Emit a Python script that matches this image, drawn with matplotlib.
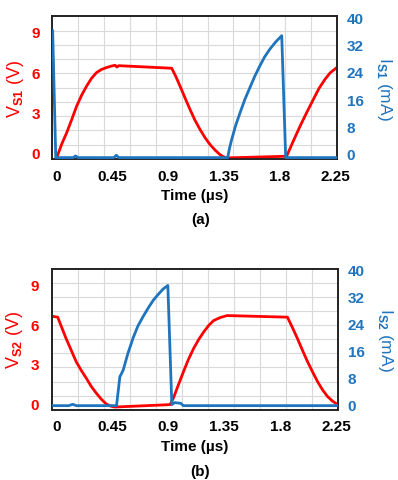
import matplotlib.pyplot as plt
import numpy as np

plt.rcParams["font.family"] = ["Liberation Sans", "DejaVu Sans"]
plt.rcParams["font.weight"] = "bold"
plt.rcParams["mathtext.fontset"] = "custom"
plt.rcParams["mathtext.rm"] = "Liberation Sans:bold"
plt.rcParams["mathtext.bf"] = "Liberation Sans:bold"

RED = "#FF0000"
BLUE = "#1F74BE"

# Data (time in us)
xticks = [0, 0.45, 0.9, 1.35, 1.8, 2.25]
xticklabels = ["0", "0.45", "0.9", "1.35", "1.8", "2.25"]
v_ticks = [0, 3, 6, 9]
i_ticks = [0, 8, 16, 24, 32, 40]

# (a) V_S1 and I_S1
t_v1 = [0.0, 0.04, 0.078, 0.12, 0.159, 0.2, 0.24, 0.28, 0.32, 0.36, 0.40, 0.44, 0.47,
        0.485, 0.50, 0.928, 0.96, 0.995, 1.035, 1.076, 1.115, 1.157, 1.2, 1.238, 1.28,
        1.319, 1.35, 1.373, 1.845, 1.855, 1.91, 1.966, 2.02, 2.074, 2.12, 2.168, 2.21, 2.263]
v_s1 = [-0.3, 0.7, 1.49, 2.5, 3.48, 4.3, 4.97, 5.55, 5.97, 6.2, 6.34, 6.45, 6.51,
        6.38, 6.48, 6.29, 5.7, 4.97, 4.1, 3.23, 2.45, 1.74, 1.1, 0.62, 0.2,
        -0.13, -0.3, -0.37, -0.25, -0.3, 0.85, 1.98, 3.0, 3.98, 4.8, 5.47, 5.95, 6.34]
t_i1 = [-0.035, -0.01, 0.13, 0.15, 0.17, 0.46, 0.48, 0.50, 1.381, 1.395, 1.413, 1.445,
        1.481, 1.52, 1.561, 1.6, 1.642, 1.68, 1.723, 1.77, 1.818, 1.85, 2.265]
i_s1 = [36.0, -1.2, -1.2, -0.7, -1.2, -1.2, -0.5, -1.2, -1.2, 1.5, 4.1, 8.2,
        12.0, 15.9, 19.4, 22.7, 25.8, 28.4, 30.7, 32.8, 34.6, -1.2, -1.2]

# (b) V_S2 and I_S2
t_v2 = [-0.024, 0.01, 0.04, 0.078, 0.12, 0.159, 0.2, 0.24, 0.28, 0.32, 0.36, 0.40, 0.435,
        0.47, 0.914, 0.941, 0.98, 1.022, 1.06, 1.103, 1.145, 1.184, 1.225, 1.265, 1.32,
        1.373, 1.858, 1.9, 1.939, 1.98, 2.02, 2.06, 2.10, 2.14, 2.18, 2.22, 2.263]
v_s2 = [6.57, 6.52, 5.8, 4.9, 4.0, 3.16, 2.5, 1.92, 1.3, 0.8, 0.35, -0.02, -0.18,
        -0.25, -0.07, 0.43, 1.4, 2.42, 3.3, 4.16, 4.85, 5.4, 5.9, 6.27, 6.5,
        6.64, 6.52, 5.7, 4.9, 4.0, 3.16, 2.4, 1.67, 1.05, 0.55, 0.2, -0.07]
t_i2 = [-0.03, 0.10, 0.13, 0.16, 0.483, 0.497, 0.51, 0.536, 0.575, 0.617, 0.655, 0.698,
        0.74, 0.779, 0.82, 0.86, 0.896, 0.928, 0.95, 1.0, 1.02, 2.265]
i_s2 = [-0.4, -0.4, 0.0, -0.4, -0.4, 4.0, 8.2, 10.1, 15.2, 19.8, 23.3, 26.2,
        28.8, 31.0, 32.8, 34.4, 35.4, -0.1, 0.5, 0.3, -0.4, -0.4]

panels = [
    (t_v1, v_s1, t_i1, i_s1, "S1", "(a)", [0.1314, 0.6674, 0.7153, 0.2967], 0.5426),
    (t_v2, v_s2, t_i2, i_s2, "S2", "(b)", [0.1300, 0.1462, 0.7193, 0.2925], 0.0194),
]

fig = plt.figure(figsize=(3.98, 4.81), dpi=100)
xlim = (-0.038, 2.265)

for tv, vv, ti, ii, sub, tag, rect, tag_y in panels:
    ax = fig.add_axes(rect)
    ax2 = ax.twinx()
    ax.set_xlim(*xlim)
    ax.set_ylim(-0.45, 10.15)
    ax2.set_ylim(-1.6, 40.3)

    # light grid: 11 columns x 10 rows
    for gx in np.linspace(xlim[0], xlim[1], 12)[1:-1]:
        ax.axvline(gx, color="#D9D9D9", lw=0.8, zorder=0)
    for gy in np.linspace(-0.45, 10.15, 11)[1:-1]:
        ax.axhline(gy, color="#D9D9D9", lw=0.8, zorder=0)

    ax.plot(tv, vv, color=RED, lw=2.0, zorder=3)
    ax2.plot(ti, ii, color=BLUE, lw=2.0, zorder=3)

    ax.set_xticks(xticks)
    ax.set_xticklabels(xticklabels)
    ax.set_yticks(v_ticks)
    ax2.set_yticks(i_ticks)
    ax.tick_params(axis="x", length=0, pad=7, labelsize=11)
    ax.tick_params(axis="y", length=0, pad=9, labelsize=11, labelcolor=RED)
    ax2.tick_params(axis="y", length=0, pad=7, labelsize=11, labelcolor=BLUE)
    for a in (ax, ax2):
        for s in a.spines.values():
            s.set_color("#222222")
            s.set_linewidth(1.2)

    ax.set_xlabel("Time (µs)", fontsize=11, fontweight="bold", labelpad=4)
    ax.set_ylabel(r"V$_{\rm %s}$ (V)" % sub, color=RED, fontsize=13, labelpad=4)
    ax2.set_ylabel(r"I$_{\rm %s}$ (mA)" % sub, color=BLUE, fontsize=12.5,
                   rotation=270, labelpad=22)
    fig.text(0.503, tag_y, tag, ha="center", va="center", fontsize=11, fontweight="bold")

fig.savefig("out.png", dpi=100)
